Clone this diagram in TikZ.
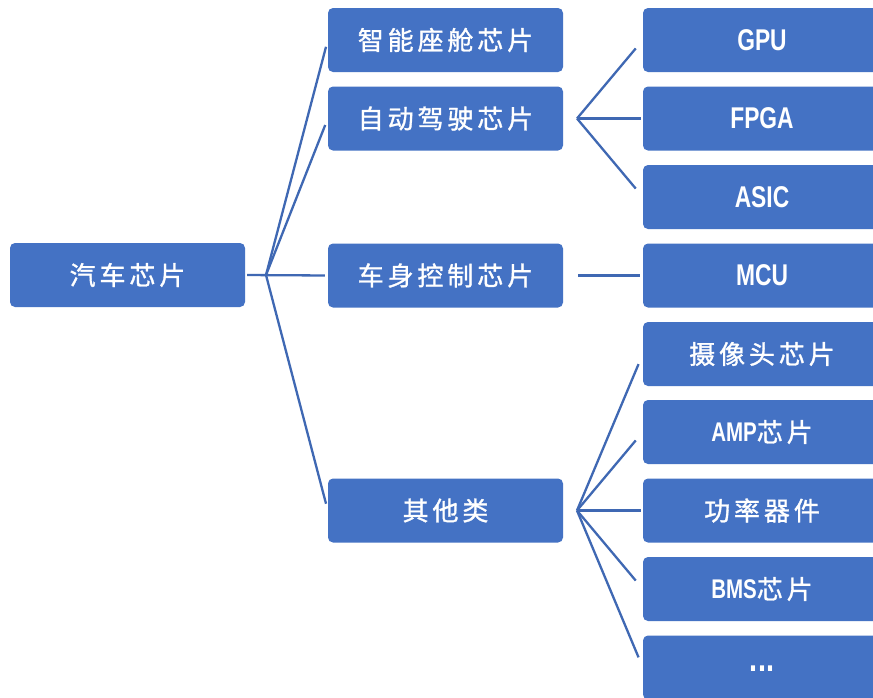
\documentclass[tikz,border=0pt]{standalone}
\usepackage{fontspec}
\setmainfont{Noto Sans CJK SC}[LetterSpace=15, FakeBold=1.2]
\newfontfamily\lat{Liberation Sans}[FakeStretch=0.76]
\definecolor{boxblue}{HTML}{4472C4}
\definecolor{linkblue}{HTML}{3F68B3}
\begin{document}
\begin{tikzpicture}[x=1pt,y=-1pt,
  box/.style={fill=boxblue, rounded corners=5pt, minimum height=64pt, text=white, inner sep=0pt, font=\fontsize{26}{30}\selectfont},
  leftbox/.style={box, minimum width=235pt},
  rightbox/.style={box, minimum width=238pt},
  latin/.style={font=\lat\bfseries\fontsize{30}{34}\selectfont},
  link/.style={draw=linkblue, line width=2.3pt}]
\useasboundingbox (0,0) rectangle (873,697);
\fill[white] (0,0) rectangle (873,697);
% root
\node[leftbox] (root) at (127.5,275) {汽车芯片};
% column 2
\node[leftbox] (n1) at (445.5,40) {智能座舱芯片};
\node[leftbox] (n2) at (445.5,118.5) {自动驾驶芯片};
\node[leftbox] (n3) at (445.5,275.5) {车身控制芯片};
\node[leftbox] (n4) at (445.5,510.5) {其他类};
% column 3
\node[rightbox, latin] (gpu) at (762,40) {GPU};
\node[rightbox, latin] (fpga) at (762,118.5) {FPGA};
\node[rightbox, latin] (asic) at (762,197) {ASIC};
\node[rightbox, latin] (mcu) at (762,275.5) {MCU};
\node[rightbox] (cam) at (762,354) {摄像头芯片};
\node[rightbox] (amp) at (762,432) {{\lat\bfseries\fontsize{27}{30}\selectfont AMP}芯片};
\node[rightbox] (pow) at (762,510.5) {功率器件};
\node[rightbox] (bms) at (762,589) {{\lat\bfseries\fontsize{27}{30}\selectfont BMS}芯片};
\node[rightbox, font=\lat\bfseries\fontsize{38}{40}\selectfont, text height=8pt, text depth=0pt] (more) at (762,667.5) {...};
% hubs
\coordinate (h1) at (266,275);
\coordinate (h2) at (577,118.5);
\coordinate (h4) at (577,510.5);
% root connectors
\draw[link, shorten <=2pt, shorten >=3pt] (root.east) -- (n3.west);
\draw[link, shorten >=7pt] (h1) -- (n1.west);
\draw[link, shorten >=7pt] (h1) -- (n2.west);
\draw[link, shorten >=7pt] (h1) -- (n4.west);
% autonomous driving connectors
\draw[link, shorten >=11pt] (h2) -- (gpu.west);
\draw[link, shorten >=2pt] (h2) -- (fpga.west);
\draw[link, shorten >=11pt] (h2) -- (asic.west);
% body control
\draw[link, shorten <=15pt, shorten >=3pt] (n3.east) -- (mcu.west);
% others
\draw[link, shorten >=11pt] (h4) -- (cam.west);
\draw[link, shorten >=11pt] (h4) -- (amp.west);
\draw[link, shorten >=2pt] (h4) -- (pow.west);
\draw[link, shorten >=11pt] (h4) -- (bms.west);
\draw[link, shorten >=11pt] (h4) -- (more.west);
\end{tikzpicture}
\end{document}
